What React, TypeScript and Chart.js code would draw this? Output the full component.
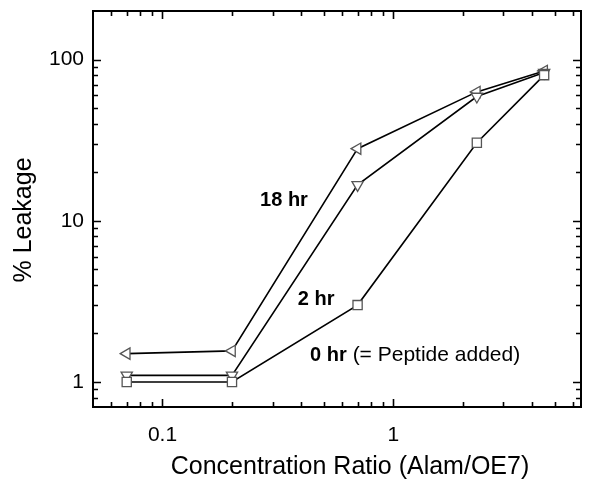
import React, { useEffect, useRef } from "react";
import { Chart, registerables } from "chart.js";

Chart.register(...registerables);

// ---- data ----
const concentrationRatio = [0.07, 0.2, 0.7, 2.3, 4.5];
const leakage18hr = [1.5, 1.56, 28, 63, 85];
const leakage2hr = [1.1, 1.1, 16.7, 59, 83];
const leakage0hr = [1.0, 1.0, 3.0, 30.5, 80];

const xTickValues = [0.05, 0.06, 0.07, 0.08, 0.09, 0.1, 0.2, 0.3, 0.4, 0.5, 0.6, 0.7, 0.8, 0.9, 1, 2, 3, 4, 5, 6];
const xMajorTicks = [0.1, 1];
const xTickLabels = ["0.1", "1"];
const yTickValues = [0.7, 0.8, 0.9, 1, 2, 3, 4, 5, 6, 7, 8, 9, 10, 20, 30, 40, 50, 60, 70, 80, 90, 100, 200];
const yMajorTicks = [1, 10, 100];
const yTickLabels = ["1", "10", "100"];

const xTitle = "Concentration Ratio (Alam/OE7)";
const yTitle = "% Leakage";

// annotation anchors in data space
const annotations = [
  { bold: "18 hr", normal: "", x: 0.336, y: 13.3 },
  { bold: "2 hr", normal: "", x: 0.463, y: 3.23 },
  { bold: "0 hr", normal: " (= Peptide added)", x: 0.436, y: 1.47, leftAligned: true },
];

const FONT = "'Liberation Sans', Arial, Helvetica, sans-serif";

function labelFor(v: number, majors: number[], labels: string[]) {
  for (let i = 0; i < majors.length; i++) {
    if (Math.abs(v - majors[i]) < majors[i] * 1e-6) return labels[i];
  }
  return "";
}

function isMajor(v: number, majors: number[]) {
  return majors.some((m) => Math.abs(v - m) < m * 1e-6);
}

const framePlugin = {
  id: "frame",
  afterDraw(chart: any) {
    const { ctx, chartArea } = chart;
    const { left, right, top, bottom } = chartArea;
    const xs = chart.scales.x;
    const ys = chart.scales.y;
    ctx.save();
    ctx.strokeStyle = "#000";
    ctx.lineWidth = 1.6;
    // ticks (inward, all four sides)
    ctx.beginPath();
    for (const v of xTickValues) {
      const px = Math.round(xs.getPixelForValue(v)) + 0.5;
      if (px <= left + 1 || px >= right - 1) continue;
      const len = isMajor(v, xMajorTicks) ? 8 : 5;
      ctx.moveTo(px, bottom);
      ctx.lineTo(px, bottom - len);
      ctx.moveTo(px, top);
      ctx.lineTo(px, top + len);
    }
    for (const v of yTickValues) {
      const py = Math.round(ys.getPixelForValue(v)) + 0.5;
      if (py <= top + 1 || py >= bottom - 1) continue;
      const len = isMajor(v, yMajorTicks) ? 8 : 5;
      ctx.moveTo(left, py);
      ctx.lineTo(left + len, py);
      ctx.moveTo(right, py);
      ctx.lineTo(right - len, py);
    }
    ctx.stroke();
    // frame
    ctx.lineWidth = 2;
    ctx.strokeRect(left, top, right - left, bottom - top);

    // titles
    ctx.fillStyle = "#000";
    ctx.font = `25px ${FONT}`;
    ctx.textAlign = "center";
    ctx.textBaseline = "middle";
    ctx.fillText(xTitle, 350, 467);
    ctx.save();
    ctx.translate(24, 220);
    ctx.rotate(-Math.PI / 2);
    ctx.fillText(yTitle, 0, 0);
    ctx.restore();

    // annotations
    for (const a of annotations) {
      const px = xs.getPixelForValue(a.x);
      const py = ys.getPixelForValue(a.y);
      ctx.font = `bold 20px ${FONT}`;
      const bw = ctx.measureText(a.bold).width;
      ctx.textBaseline = "middle";
      if (a.leftAligned) {
        ctx.textAlign = "left";
        ctx.fillText(a.bold, px, py);
        ctx.font = `21px ${FONT}`;
        ctx.fillText(a.normal, px + bw, py);
      } else {
        ctx.textAlign = "center";
        ctx.fillText(a.bold, px, py);
      }
    }
    ctx.restore();
  },
};

function makeDataset(label: string, values: number[], pointStyle: string, rotation: number) {
  return {
    label,
    data: concentrationRatio.map((x, i) => ({ x, y: values[i] })),
    borderColor: "#000",
    borderWidth: 1.6,
    pointStyle,
    rotation,
    pointRadius: 6.5,
    pointBorderColor: "#555",
    pointBorderWidth: 1.3,
    pointBackgroundColor: "#fff",
    tension: 0,
    fill: false,
  };
}

function zeroPadding(scale: any) {
  scale.paddingTop = 0;
  scale.paddingBottom = 0;
  scale.paddingLeft = 0;
  scale.paddingRight = 0;
}

export default function App() {
  const canvasRef = useRef<HTMLCanvasElement | null>(null);

  useEffect(() => {
    document.body.style.margin = "0";
    const canvas = canvasRef.current;
    if (!canvas) return;
    const chart = new Chart(canvas, {
      type: "line",
      data: {
        datasets: [
          makeDataset("0 hr", leakage0hr, "rect", 0),
          makeDataset("2 hr", leakage2hr, "triangle", 180),
          makeDataset("18 hr", leakage18hr, "triangle", 270),
        ] as any,
      },
      options: {
        responsive: false,
        animation: false,
        devicePixelRatio: 1,
        layout: { padding: { left: 0, top: 11, right: 19, bottom: 0 } },
        plugins: {
          legend: { display: false },
          tooltip: { enabled: false },
        },
        scales: {
          x: {
            type: "logarithmic",
            min: 0.05,
            max: 6.5,
            grid: { display: false, drawTicks: false },
            border: { display: false },
            ticks: {
              autoSkip: false,
              maxRotation: 0,
              color: "#000",
              padding: 16,
              font: { family: FONT, size: 21 },
              callback: (v: any) => labelFor(Number(v), xMajorTicks, xTickLabels),
            },
            afterBuildTicks: (scale: any) => {
              scale.ticks = xTickValues.map((v) => ({ value: v, major: isMajor(v, xMajorTicks) }));
            },
            afterFit: (scale: any) => {
              scale.height = 77;
              zeroPadding(scale);
            },
          },
          y: {
            type: "logarithmic",
            min: 0.7,
            max: 200,
            grid: { display: false, drawTicks: false },
            border: { display: false },
            ticks: {
              autoSkip: false,
              color: "#000",
              padding: 9,
              font: { family: FONT, size: 21 },
              callback: (v: any) => labelFor(Number(v), yMajorTicks, yTickLabels),
            },
            afterBuildTicks: (scale: any) => {
              scale.ticks = yTickValues.map((v) => ({ value: v, major: isMajor(v, yMajorTicks) }));
            },
            afterFit: (scale: any) => {
              scale.width = 93;
              zeroPadding(scale);
            },
          },
        },
      } as any,
      plugins: [framePlugin],
    });
    return () => chart.destroy();
  }, []);

  return (
    <div style={{ width: 600, height: 484, background: "#fff" }}>
      <canvas ref={canvasRef} width={600} height={484} style={{ display: "block" }} />
    </div>
  );
}
